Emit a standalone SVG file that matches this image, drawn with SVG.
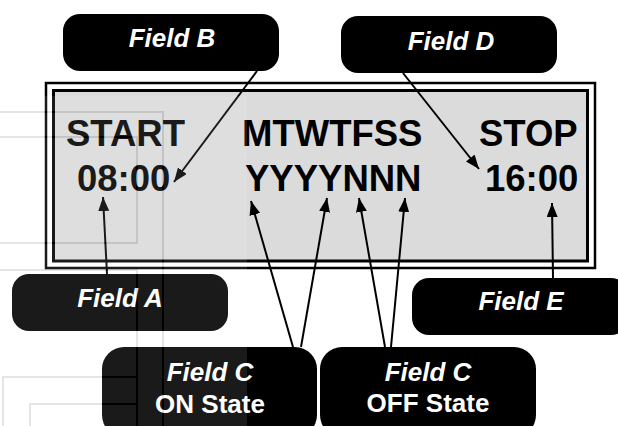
<svg xmlns="http://www.w3.org/2000/svg" width="618" height="426" viewBox="0 0 618 426">
<style>
.box{fill:#000}
.lbl{font-family:"Liberation Sans",Arial,sans-serif;font-weight:bold;font-style:italic;font-size:26px;fill:#fff;text-anchor:middle}
.lbl2{font-family:"Liberation Sans",Arial,sans-serif;font-weight:bold;font-size:26px;fill:#fff;text-anchor:middle}
.lcd{font-family:"Liberation Sans",Arial,sans-serif;font-weight:bold;font-size:36.5px;fill:#000}
.conn line{stroke:#000;stroke-width:2;marker-end:url(#ah)}
.wm{fill:none;stroke-width:2}
</style>
<defs>
<marker id="ah" markerUnits="userSpaceOnUse" markerWidth="15" markerHeight="12" refX="14" refY="5.5" orient="auto">
<path d="M0,0 L14,5.5 L0,11 z" fill="#000"/>
</marker>
<mask id="wmask">
<rect x="0" y="0" width="618" height="426" fill="#fff"/>
<g class="wm" stroke="#000">
<path d="M0,112 H163 V426"/>
<path d="M0,137 H137 V243 H0"/>
<path d="M0,270 H137 V426"/>
<path d="M3,426 V377 H137"/>
<path d="M30,426 V404 H137"/>
</g>
</mask>
</defs>
<rect width="618" height="426" fill="#fff"/>
<g id="lcd">
<rect x="46" y="83" width="549" height="185" fill="#fff" stroke="#000" stroke-width="2.5"/>
<rect x="53.5" y="90.5" width="534" height="170.5" fill="#dbdbdb" stroke="#000" stroke-width="3"/>
<text class="lcd" x="66" y="146">START</text>
<text class="lcd" x="77" y="191">08:00</text>
<text class="lcd" x="242" y="146">MTWTFSS</text>
<text class="lcd" x="245" y="191">YYYYNNN</text>
<text class="lcd" x="479" y="146">STOP</text>
<text class="lcd" x="485" y="191">16:00</text>
</g>
<g id="fieldB"><rect class="box" x="63" y="14" width="216" height="57" rx="17"/><text class="lbl" x="172" y="47">Field B</text></g>
<g id="fieldD"><rect class="box" x="341" y="16" width="216" height="57" rx="17"/><text class="lbl" x="451" y="50">Field D</text></g>
<g id="fieldA"><rect class="box" x="12" y="274" width="216" height="57" rx="17"/><text class="lbl" x="120" y="307">Field A</text></g>
<g id="fieldE"><rect class="box" x="412" y="278" width="216" height="57" rx="17"/><text class="lbl" x="521" y="310">Field E</text></g>
<g id="fieldCon"><rect class="box" x="102" y="347" width="215" height="90" rx="22"/><text class="lbl" x="210" y="381">Field C</text><text class="lbl2" x="210" y="413">ON State</text></g>
<g id="fieldCoff"><rect class="box" x="320" y="347" width="216" height="90" rx="22"/><text class="lbl" x="428" y="381">Field C</text><text class="lbl2" x="428" y="412">OFF State</text></g>
<g class="conn" id="connectors">
<line x1="257" y1="71" x2="174" y2="182"/>
<line x1="403" y1="73" x2="479" y2="169"/>
<line x1="107" y1="274" x2="103" y2="197"/>
<line x1="553" y1="278" x2="552" y2="203"/>
<line x1="293" y1="347" x2="251" y2="201"/>
<line x1="301" y1="347" x2="327" y2="198"/>
<line x1="385" y1="347" x2="359" y2="198"/>
<line x1="391" y1="347" x2="405" y2="198"/>
</g>
<g id="watermark">
<rect x="0" y="96" width="247" height="330" fill="#fff" opacity="0.1" mask="url(#wmask)"/>
<g class="wm" stroke="#000" stroke-opacity="0.1">
<path d="M0,112 H163 V426"/>
<path d="M0,137 H137 V243 H0"/>
<path d="M0,270 H137 V426"/>
<path d="M3,426 V377 H137"/>
<path d="M30,426 V404 H137"/>
</g>
</g>
</svg>
